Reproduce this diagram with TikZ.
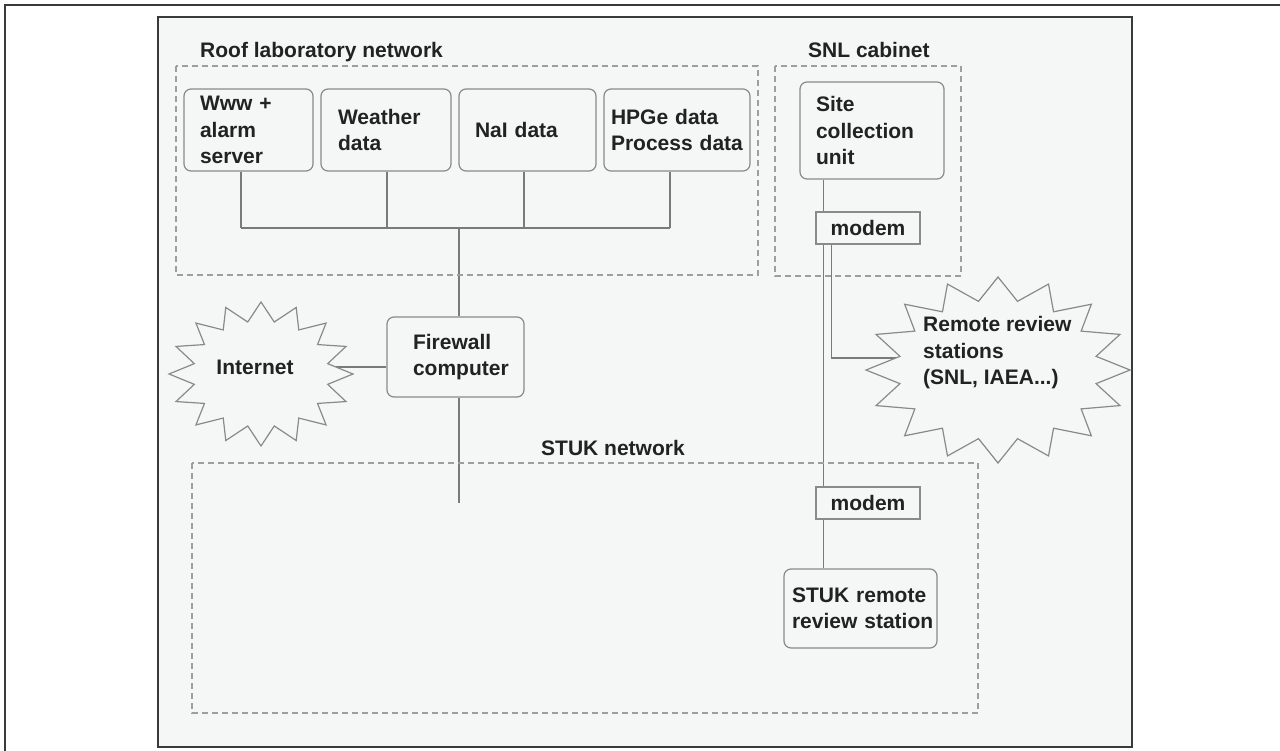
\documentclass[tikz,border=0pt]{standalone}
\usepackage{fontspec}
\setmainfont{Liberation Sans}
\usepackage{xcolor}
\usetikzlibrary{positioning,calc}

\definecolor{panel}{HTML}{F5F6F6}
\definecolor{edge}{HTML}{8A8A8A}
\definecolor{wiregray}{HTML}{7A7A7A}
\definecolor{dashgray}{HTML}{9E9E9E}
\definecolor{ink}{HTML}{222222}
\definecolor{framegray}{HTML}{3A3A3A}

\newcommand{\labfont}{\fontsize{21}{26.5}\selectfont\bfseries}

\pgfdeclarelayer{wires}
\pgfsetlayers{wires,main}

\begin{document}
\begin{tikzpicture}[x=1pt,y=-1pt,
    unit/.style={draw=edge, line width=1.2pt, rounded corners=7pt, fill=panel, align=left, font=\labfont, text=ink, inner xsep=4pt, inner ysep=3pt},
    modembox/.style={draw=edge, line width=1.2pt, fill=panel, font=\labfont, text=ink, minimum width=104pt, minimum height=32pt, inner sep=0pt},
    zone/.style={draw=dashgray, line width=1.2pt, dash pattern=on 6pt off 4pt},
    wire/.style={draw=wiregray, line width=1.3pt},
    burst/.style={draw=edge, line width=1.2pt, fill=panel, line join=miter},
    plain/.style={font=\labfont, text=ink, inner sep=0pt}]

  \useasboundingbox (0,0) rectangle (1280,751);

  % Outer frame and panel
  \begin{pgfonlayer}{wires}
    \fill[panel] (158,17) rectangle (1132,747);
  \end{pgfonlayer}
  \draw[framegray, line width=2pt] (158,17) rectangle (1132,747);
  \draw[framegray, line width=2.5pt] (5,751) -- (5,5) -- (1280,5);

  % Dashed zones with their titles
  \draw[zone] (176,66) rectangle (758,275);
  \draw[zone] (775,66) rectangle (961,276);
  \draw[zone] (192,463) rectangle (978,713);
  \node[plain, anchor=base west] (rooflbl) at (200,58) {Roof laboratory network};
  \node[plain, anchor=base west] (snllbl) at (808,58) {SNL cabinet};
  \node[plain, anchor=base west] (stuklbl) at (541,455) {STUK network};

  % Roof laboratory units
  \foreach \nm/\cx/\bw/\tw/\txt in {www/248.5/129/97/{Www +\\alarm\\server}, weather/386/130/96/{Weather\\data}, nai/527.5/137/105/{NaI data}, hpge/677/146/132/{HPGe data\\Process data}} {
    \node[unit, minimum width=\bw pt, minimum height=82pt, text width=\tw pt] (\nm) at (\cx,130) {\txt};
  }

  % Firewall, site unit, modems, STUK station
  \node[unit, minimum width=137pt, minimum height=80pt, text width=85pt] (fw) at (455.5,357) {Firewall\\\mbox{computer}};
  \node[unit, minimum width=144pt, minimum height=97pt, text width=112pt] (site) at (872,130.5) {Site\\collection\\unit};
  \node[modembox] (modema) at (868,228) {modem};
  \node[modembox] (modemb) at (868,503) {modem};
  \node[unit, minimum width=153pt, minimum height=79pt, text width=137pt] (stukrs) at (860.5,608.5) {\mbox{STUK remote}\\\mbox{review station}};

  % Bursts
  \coordinate (inetc) at (261,374);
  \draw[burst, shift={(inetc)}] (0:92pt and 72pt)
    \foreach \t in {22.5,45,...,360} { -- (\t-11.25:68pt and 53pt) -- (\t:92pt and 72pt) } -- cycle;
  \node[plain] (inet) at (255,367) {Internet};

  \coordinate (rrsc) at (998,370);
  \draw[burst, shift={(rrsc)}] (0:132pt and 93pt)
    \foreach \t in {22.5,45,...,360} { -- (\t-11.25:100pt and 70pt) -- (\t:132pt and 93pt) } -- cycle;
  \node[plain, align=left, anchor=west] (rrs) at (923,353) {Remote review\\stations\\(SNL, IAEA...)};

  % Connectors
  \begin{pgfonlayer}{wires}
    \coordinate (bus) at (459,228);
    \coordinate (stukdrop) at (459,503);
    \foreach \nm/\dx in {www/-7.5, weather/1, nai/-3.5, hpge/-7}
      \draw[wire] ([xshift=\dx pt]\nm.south) -- ([xshift=\dx pt]\nm.south |- bus);
    \draw[wire] ([xshift=-7.5pt]www.south |- bus) -- ([xshift=-7pt]hpge.south |- bus);
    \draw[wire] (bus) -- (bus |- fw.north);
    \draw[wire] (bus |- fw.south) -- (stukdrop);
    \draw[wire] (inet) -- (inet -| fw.west);
    \draw[wire] ([xshift=8pt]modema.north west) -- ([xshift=8pt]modema.north west |- site.south);
    \draw[wire] ([xshift=8pt]modema.south west) -- ([xshift=8pt]modemb.north west);
    \draw[wire] ([xshift=16pt]modema.south west) |- ([yshift=12pt]rrsc);
    \draw[wire] ([xshift=8pt]modemb.south west) -- ([xshift=8pt]modemb.south west |- stukrs.north);
  \end{pgfonlayer}
\end{tikzpicture}
\end{document}
